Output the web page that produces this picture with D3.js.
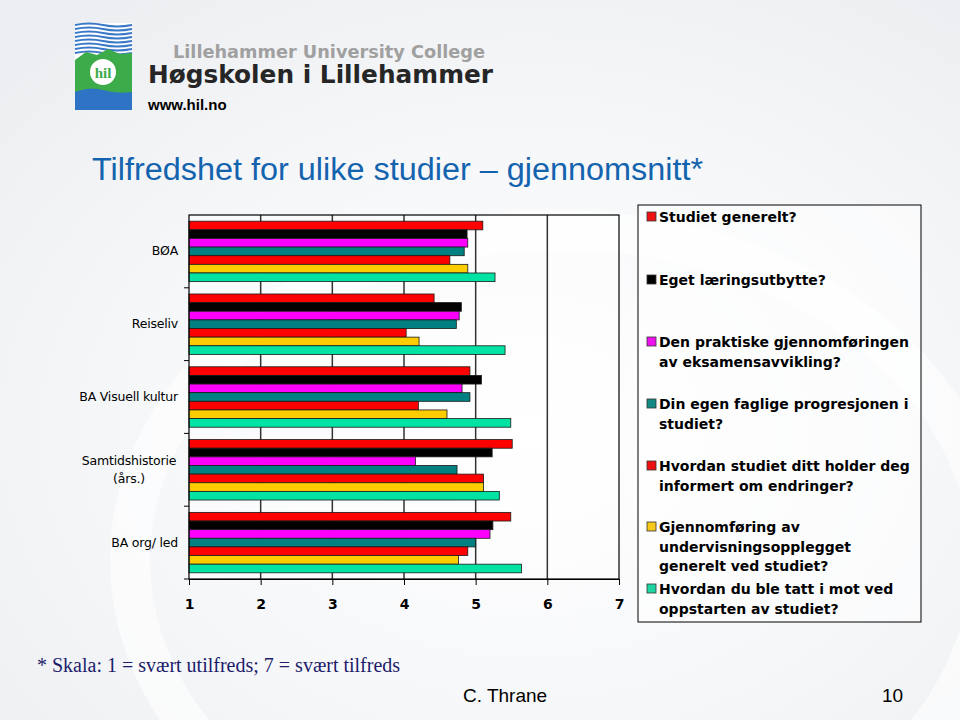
<!DOCTYPE html>
<html>
<head>
<meta charset="utf-8">
<script src="https://cdn.jsdelivr.net/npm/d3@7"></script>
<style>
  html, body { margin: 0; padding: 0; }
  body { width: 960px; height: 720px; overflow: hidden; }
</style>
</head>
<body>
<div id="chart"></div>
<script>
const width = 960
const height = 720

// Study programmes, top to bottom
const categories = ["BØA", "Reiseliv", "BA Visuell kultur", "Samtidshistorie\n(års.)", "BA org/ led"]

// Questions (series), in drawing order inside each group
const seriesNames = [
  "Studiet generelt?",
  "Eget læringsutbytte?",
  "Den praktiske gjennomføringen\nav eksamensavvikling?",
  "Din egen faglige progresjonen i\nstudiet?",
  "Hvordan studiet ditt holder deg\ninformert om endringer?",
  "Gjennomføring av\nundervisningsopplegget\ngenerelt ved studiet?",
  "Hvordan du ble tatt i mot ved\noppstarten av studiet?"
]
const seriesColors = ["#ff0000", "#000000", "#ff00ff", "#008080", "#ff0000", "#ffcc00", "#00e3a3"]

// Mean scores, one array per question, in category order
const studietGenerelt   = [5.10, 4.42, 4.92, 5.51, 5.49]
const egetLaering       = [4.88, 4.80, 5.08, 5.23, 5.24]
const eksamen           = [4.89, 4.77, 4.81, 4.16, 5.20]
const progresjon        = [4.84, 4.73, 4.92, 4.74, 5.00]
const informert         = [4.64, 4.03, 4.20, 5.11, 4.89]
const undervisning      = [4.89, 4.21, 4.60, 5.11, 4.76]
const mottak            = [5.27, 5.41, 5.49, 5.33, 5.64]

const seriesValues = [studietGenerelt, egetLaering, eksamen, progresjon, informert, undervisning, mottak]
const xTicks = [1, 2, 3, 4, 5, 6, 7]

const svg = d3.select("#chart").append("svg")
  .attr("width", width)
  .attr("height", height)
  .style("font-family", "'DejaVu Sans', Verdana, sans-serif")

// slide background
const defs = svg.append("defs")
const bg = defs.append("radialGradient").attr("id", "bg")
  .attr("cx", "0.55").attr("cy", "0.6").attr("r", "0.75")
bg.append("stop").attr("offset", "0").attr("stop-color", "#ffffff")
bg.append("stop").attr("offset", "0.55").attr("stop-color", "#f6f7f9")
bg.append("stop").attr("offset", "1").attr("stop-color", "#eceef1")
svg.append("rect").attr("width", width).attr("height", height).attr("fill", "url(#bg)")
svg.append("ellipse")
  .attr("cx", 560).attr("cy", 560).attr("rx", 430).attr("ry", 330)
  .attr("fill", "none").attr("stroke", "#ffffff").attr("stroke-width", 40).attr("opacity", 0.6)

// logo
const logo = svg.append("g")
logo.append("rect").attr("x", 75).attr("y", 23).attr("width", 57).attr("height", 87).attr("fill", "#ffffff")
for (let i = 0; i < 8; i++) {
  logo.append("path")
    .attr("d", `M75,${25 + i * 4} q14,-3 28,0 t29,0`)
    .attr("fill", "none").attr("stroke", "#3a78c8").attr("stroke-width", 2)
}
logo.append("path")
  .attr("d", "M75,60 L86,52 L97,55 L108,49 L120,54 L132,53 L132,95 L75,95 Z")
  .attr("fill", "#3cab4a")
logo.append("path")
  .attr("d", "M75,92 q14,-6 28,-2 t29,2 L132,110 L75,110 Z")
  .attr("fill", "#2f74c4")
logo.append("circle").attr("cx", 103).attr("cy", 72).attr("r", 14)
  .attr("fill", "#ffffff").attr("stroke", "#3cab4a").attr("stroke-width", 2)
logo.append("text").attr("x", 103).attr("y", 78).attr("text-anchor", "middle")
  .attr("font-size", 15).attr("font-weight", "bold").attr("fill", "#3cab4a")
  .style("font-family", "'Liberation Serif', serif").text("hil")

logo.append("text").attr("x", 173).attr("y", 58)
  .attr("font-size", 18).attr("font-weight", "bold").attr("fill", "#a0a0a0")
  .attr("textLength", 312).attr("lengthAdjust", "spacingAndGlyphs")
  .text("Lillehammer University College")
logo.append("text").attr("x", 148).attr("y", 83)
  .attr("font-size", 25).attr("font-weight", "bold").attr("fill", "#262626")
  .attr("textLength", 345).attr("lengthAdjust", "spacingAndGlyphs")
  .text("Høgskolen i Lillehammer")
logo.append("text").attr("x", 148).attr("y", 110)
  .attr("font-size", 15).attr("font-weight", "bold").attr("fill", "#000000")
  .style("font-family", "'Liberation Sans', Arial, sans-serif")
  .text("www.hil.no")

// title
svg.append("text").attr("x", 92).attr("y", 180)
  .attr("font-size", 31).attr("fill", "#1463ae")
  .style("font-family", "'Liberation Sans', Arial, sans-serif")
  .attr("textLength", 611).attr("lengthAdjust", "spacingAndGlyphs")
  .text("Tilfredshet for ulike studier – gjennomsnitt*")

// plot
const plot = { left: 189, right: 619, top: 215, bottom: 579 }

const x = d3.scaleLinear().domain([1, 7]).range([plot.left, plot.right])
const y = d3.scaleBand().domain(categories).range([plot.top, plot.bottom]).paddingInner(0.17).paddingOuter(0.085)
const ySub = d3.scaleBand().domain(d3.range(seriesNames.length)).range([0, y.bandwidth()])

svg.append("rect")
  .attr("x", plot.left).attr("y", plot.top)
  .attr("width", plot.right - plot.left).attr("height", plot.bottom - plot.top)
  .attr("fill", "#ffffff").attr("fill-opacity", 0.35)

svg.append("g").selectAll("line")
  .data(xTicks.slice(1, -1))
  .join("line")
  .attr("x1", d => x(d)).attr("x2", d => x(d))
  .attr("y1", plot.top).attr("y2", plot.bottom)
  .attr("stroke", "#333333").attr("stroke-width", 1.5)

// bars
const groups = svg.append("g").selectAll("g")
  .data(categories)
  .join("g")
  .attr("transform", d => `translate(0,${y(d)})`)

groups.selectAll("rect")
  .data((c, ci) => seriesValues.map((vals, si) => ({ si: si, v: vals[ci] })))
  .join("rect")
  .attr("x", x(1))
  .attr("y", d => ySub(d.si))
  .attr("width", d => x(d.v) - x(1))
  .attr("height", ySub.bandwidth())
  .attr("fill", d => seriesColors[d.si])
  .attr("stroke", "#1a1a1a").attr("stroke-width", 0.8)

// plot frame on top
svg.append("rect")
  .attr("x", plot.left).attr("y", plot.top)
  .attr("width", plot.right - plot.left).attr("height", plot.bottom - plot.top)
  .attr("fill", "none")
  .attr("stroke", "#000000").attr("stroke-width", 1.2)

// x axis
const xAxis = svg.append("g")
  .attr("transform", `translate(0,${plot.bottom})`)
  .call(d3.axisBottom(x).tickValues(xTicks).tickFormat(d3.format("d")).tickSize(6).tickSizeOuter(0).tickPadding(14))
xAxis.select(".domain").attr("stroke", "#000")
xAxis.selectAll(".tick line").attr("stroke", "#000")
xAxis.selectAll(".tick text")
  .attr("font-size", 14).attr("font-weight", "bold").attr("fill", "#000")
  .style("font-family", "'DejaVu Sans', Verdana, sans-serif")

// y axis: ticks between categories
const yBoundaries = categories.map(c => y(c) - y.step() * y.paddingInner() / 2).slice(1)
yBoundaries.push(plot.bottom)
svg.append("g").selectAll("line")
  .data(yBoundaries)
  .join("line")
  .attr("x1", plot.left - 5).attr("x2", plot.left)
  .attr("y1", d => d).attr("y2", d => d)
  .attr("stroke", "#000")

const yLabels = svg.append("g").selectAll("text")
  .data(categories)
  .join("text")
  .attr("font-size", 12.5).attr("fill", "#000")
  .style("letter-spacing", "-0.2px")
yLabels.each(function (d) {
  const lines = d.split("\n")
  const t = d3.select(this)
  const cy = y(d) + y.bandwidth() / 2
  lines.forEach((ln, i) => {
    t.append("tspan")
      .attr("x", lines.length > 1 ? 129 : 178)
      .attr("text-anchor", lines.length > 1 ? "middle" : "end")
      .attr("y", cy + 4 + (i - (lines.length - 1) / 2) * 18)
      .text(ln)
  })
})

// legend
const legendBox = { x: 638, y: 205, w: 283, h: 417 }
svg.append("rect")
  .attr("x", legendBox.x).attr("y", legendBox.y)
  .attr("width", legendBox.w).attr("height", legendBox.h)
  .attr("fill", "#ffffff").attr("fill-opacity", 0.5)
  .attr("stroke", "#000").attr("stroke-width", 1)

const legendTops = [217, 280, 342, 404, 466, 527, 589]
const legendColors = ["#ee1111", "#000000", "#ee11ee", "#148a84", "#ee1111", "#f5c81a", "#1ed6a2"]
const legend = svg.append("g").selectAll("g")
  .data(seriesNames)
  .join("g")
  .attr("transform", (d, i) => `translate(647,${legendTops[i]})`)
legend.append("rect")
  .attr("x", 0).attr("y", -5).attr("width", 9).attr("height", 9)
  .attr("fill", (d, i) => legendColors[i]).attr("stroke", "#333").attr("stroke-width", 0.8)
legend.append("text")
  .attr("font-size", 14).attr("font-weight", "bold").attr("fill", "#000")
  .each(function (d) {
    const t = d3.select(this)
    d.split("\n").forEach((ln, i) => {
      t.append("tspan").attr("x", 12).attr("y", 5 + i * 19.5).text(ln)
    })
  })

// footer
svg.append("text").attr("x", 37).attr("y", 672)
  .attr("font-size", 20).attr("fill", "#1c1c6a")
  .style("font-family", "'Liberation Serif', 'Times New Roman', serif")
  .text("* Skala: 1 = svært utilfreds; 7 = svært tilfreds")
svg.append("text").attr("x", 463).attr("y", 702)
  .attr("font-size", 19).attr("fill", "#000")
  .style("font-family", "'Liberation Sans Narrow', 'Liberation Sans', Arial, sans-serif")
  .text("C. Thrane")
svg.append("text").attr("x", 882).attr("y", 702)
  .attr("font-size", 19).attr("fill", "#000")
  .style("font-family", "'Liberation Sans Narrow', 'Liberation Sans', Arial, sans-serif")
  .text("10")
</script>
</body>
</html>
